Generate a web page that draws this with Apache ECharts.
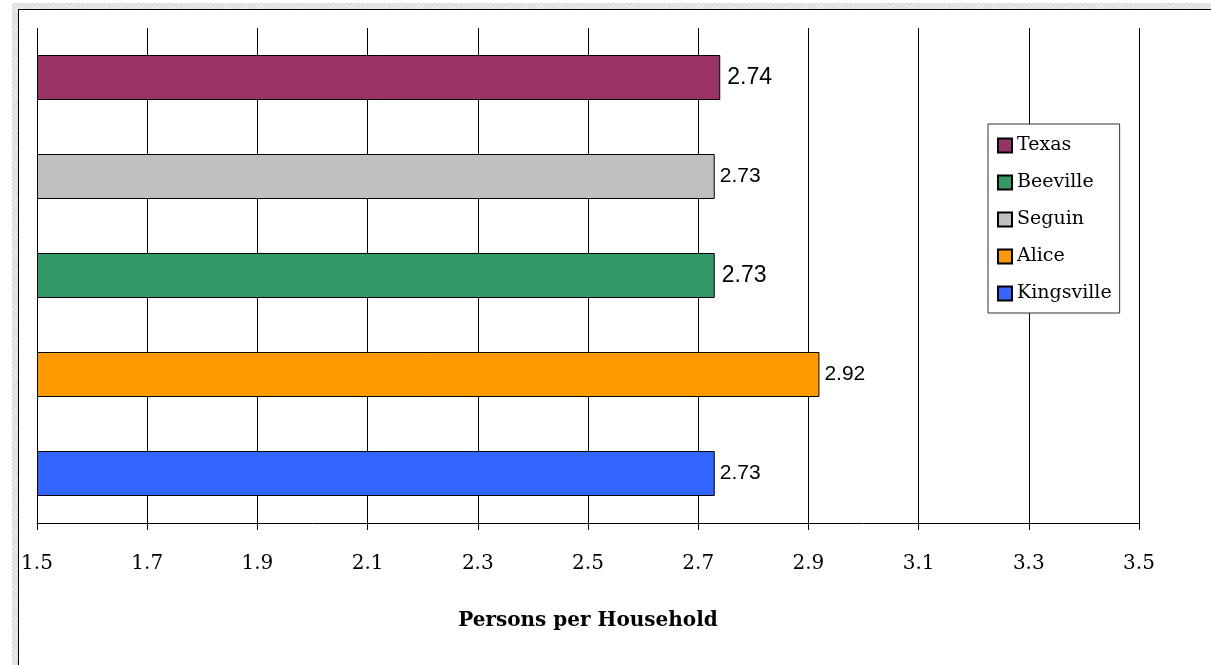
<!DOCTYPE html>
<html>
<head>
<meta charset="utf-8">
<script src="https://cdn.jsdelivr.net/npm/echarts@6/dist/echarts.min.js"></script>
<style>
html,body{margin:0;padding:0;width:1211px;height:665px;overflow:hidden;background:#fff;}
#hatch{position:absolute;left:12px;top:3px;right:0;bottom:0;
 background-color:#dcdcdc;
 background-image:repeating-linear-gradient(45deg,rgba(255,255,255,0.35) 0 1px,transparent 1px 3px),repeating-linear-gradient(-45deg,rgba(255,255,255,0.35) 0 1px,transparent 1px 3px);}
#frame{position:absolute;left:18px;top:9px;right:0;bottom:0;background:#fff;border-left:1px solid #000;border-top:1px solid #000;}
#chart{position:absolute;left:0;top:0;width:1211px;height:665px;}
</style>
</head>
<body>
<div id="hatch"></div>
<div id="frame"></div>
<div id="chart"></div>
<script>
// Data (categories listed bottom to top)
const categories = ['Kingsville', 'Alice', 'Beeville', 'Seguin', 'Texas'];
const values = [2.73, 2.92, 2.73, 2.73, 2.74];
const colors = ['#3366FF', '#FF9900', '#339966', '#C0C0C0', '#993366'];
const labelSizes = [21, 21, 23, 21, 23];
const legendOrder = ['Texas', 'Beeville', 'Seguin', 'Alice', 'Kingsville'];
const axisMin = 1.5;
const axisMax = 3.5;
const axisStep = 0.2;
const axisTitle = 'Persons per Household';

const series = categories.map(function (name, i) {
  const data = categories.map(function (c, j) { return j === i ? values[i] - axisMin : null; });
  return {
    name: name,
    type: 'bar',
    data: data,
    barWidth: 45,
    barGap: '-100%',
    itemStyle: { color: colors[i], borderColor: '#000', borderWidth: 1 },
    label: {
      show: true,
      position: 'right',
      distance: labelSizes[i] > 22 ? 7 : 5,
      color: '#000',
      fontFamily: 'Liberation Sans, Arial, sans-serif',
      fontSize: labelSizes[i],
      formatter: function (p) { return values[p.dataIndex].toFixed(2); }
    },
    emphasis: { disabled: true },
    animation: false
  };
});

const chart = echarts.init(document.getElementById('chart'), null, { renderer: 'canvas' });
chart.setOption({
  backgroundColor: 'transparent',
  animation: false,
  grid: { left: 37, right: 72, top: 28, bottom: 142, containLabel: false },
  legend: {
    data: legendOrder,
    orient: 'vertical',
    left: 988,
    top: 124,
    backgroundColor: '#fff',
    borderColor: '#333',
    borderWidth: 1,
    padding: [12, 8, 10, 9],
    itemWidth: 14,
    itemHeight: 14,
    itemGap: 18,
    icon: 'rect',
    selectedMode: false,
    textStyle: { fontFamily: 'DejaVu Serif', fontSize: 19, color: '#000' }
  },
  xAxis: {
    type: 'value',
    min: 0,
    max: axisMax - axisMin,
    interval: axisStep,
    name: axisTitle,
    nameLocation: 'middle',
    nameGap: 88,
    nameTextStyle: { fontFamily: 'DejaVu Serif', fontWeight: 'bold', fontSize: 20, color: '#000' },
    axisLine: { show: true, lineStyle: { color: '#000', width: 1 } },
    axisTick: { show: true, length: 7, lineStyle: { color: '#000' } },
    axisLabel: {
      margin: 31,
      fontFamily: 'DejaVu Serif',
      fontSize: 20,
      color: '#000',
      formatter: function (v) { return (v + axisMin).toFixed(1); }
    },
    splitLine: { show: true, lineStyle: { color: '#000', width: 1 } }
  },
  yAxis: {
    type: 'category',
    data: categories,
    axisLine: { show: false },
    axisTick: { show: false },
    axisLabel: { show: false },
    splitLine: { show: false }
  },
  series: series
});
</script>
</body>
</html>
